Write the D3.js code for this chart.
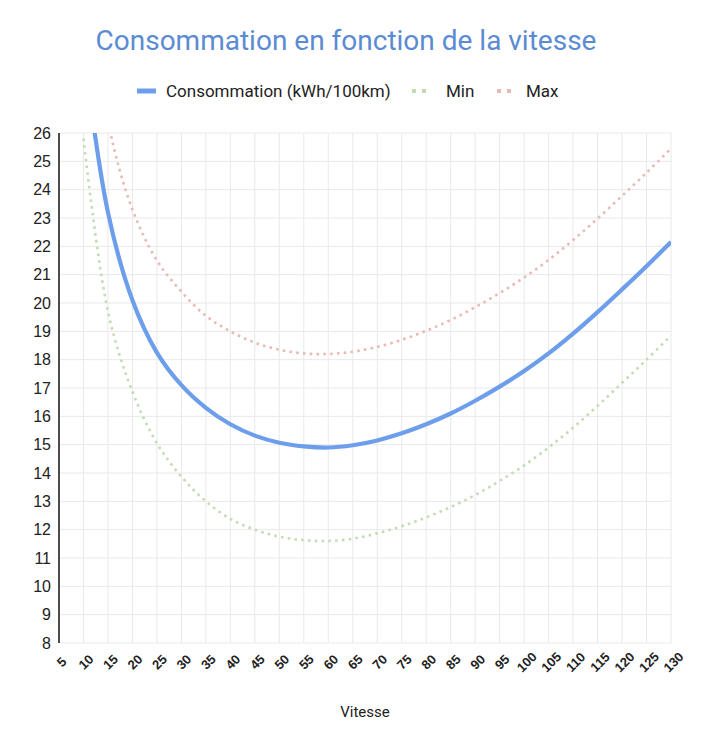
<!DOCTYPE html>
<html>
<head>
<meta charset="utf-8">
<script src="https://cdn.jsdelivr.net/npm/d3@7"></script>
<style>
  html, body { margin: 0; padding: 0; background: #fff; }
  svg { display: block; }
</style>
</head>
<body>
<svg id="chart" width="708" height="750"></svg>
<script>
// ---- Data ----
const speeds = [10, 15, 20, 25, 30, 35, 40, 45, 50, 55, 60, 65, 70, 75, 80, 85, 90, 95, 100, 105, 110, 115, 120, 125, 130];
const consommation = [29.0, 23.2, 20.1, 18.25, 17.1, 16.3, 15.72, 15.32, 15.07, 14.94, 14.9, 14.98, 15.15, 15.4, 15.72, 16.1, 16.55, 17.05, 17.6, 18.22, 18.92, 19.68, 20.48, 21.3, 22.15];
const minValues = [25.8, 19.7, 16.87, 15.05, 13.87, 13.0, 12.38, 12.0, 11.75, 11.63, 11.6, 11.68, 11.87, 12.12, 12.43, 12.8, 13.22, 13.72, 14.27, 14.9, 15.6, 16.37, 17.18, 18.0, 18.85];
const maxValues = [32.3, 26.4, 23.3, 21.5, 20.4, 19.55, 19.0, 18.6, 18.35, 18.22, 18.2, 18.28, 18.45, 18.7, 19.02, 19.4, 19.85, 20.35, 20.9, 21.52, 22.22, 22.98, 23.78, 24.6, 25.45];
const xTicks = [5, 10, 15, 20, 25, 30, 35, 40, 45, 50, 55, 60, 65, 70, 75, 80, 85, 90, 95, 100, 105, 110, 115, 120, 125, 130];
const yTicks = [8, 9, 10, 11, 12, 13, 14, 15, 16, 17, 18, 19, 20, 21, 22, 23, 24, 25, 26];
const seriesNames = ["Consommation (kWh/100km)", "Min", "Max"];
const titleText = "Consommation en fonction de la vitesse";
const xTitle = "Vitesse";

// ---- Layout ----
const svg = d3.select("#chart");
const plot = { left: 59, right: 671, top: 133, bottom: 643 };
const x = d3.scaleLinear().domain([5, 130]).range([plot.left, plot.right]);
const y = d3.scaleLinear().domain([8, 26]).range([plot.bottom, plot.top]);

const colors = { cons: "#6d9eeb", min: "#c4dcb6", max: "#e8bab6" };
const axisFont = "'Liberation Sans', Arial, sans-serif";
const uiFont = "Roboto, 'Liberation Sans', Arial, sans-serif";

// Title
svg.append("text")
  .attr("x", 346).attr("y", 50)
  .attr("text-anchor", "middle")
  .attr("font-family", uiFont)
  .attr("font-size", 28)
  .attr("fill", "#5b8bd2")
  .text(titleText);

// Legend
const legY = 91;
const leg = svg.append("g").attr("font-family", uiFont).attr("font-size", 17).attr("fill", "#222");
leg.append("line").attr("x1", 137).attr("x2", 156).attr("y1", legY).attr("y2", legY)
  .attr("stroke", colors.cons).attr("stroke-width", 5);
leg.append("text").attr("x", 166).attr("y", legY).attr("dy", "0.35em").text(seriesNames[0]);
leg.append("line").attr("x1", 412).attr("x2", 432).attr("y1", legY).attr("y2", legY)
  .attr("stroke", colors.min).attr("stroke-width", 4).attr("stroke-dasharray", "4,6");
leg.append("text").attr("x", 446).attr("y", legY).attr("dy", "0.35em").text(seriesNames[1]);
leg.append("line").attr("x1", 497).attr("x2", 517).attr("y1", legY).attr("y2", legY)
  .attr("stroke", colors.max).attr("stroke-width", 4).attr("stroke-dasharray", "4,6");
leg.append("text").attr("x", 526).attr("y", legY).attr("dy", "0.35em").text(seriesNames[2]);

// Grid
const grid = svg.append("g");
grid.selectAll("line.h").data(yTicks).join("line")
  .attr("x1", plot.left).attr("x2", plot.right)
  .attr("y1", d => y(d)).attr("y2", d => y(d))
  .attr("stroke", "#e9e9e9").attr("stroke-width", 1);
grid.selectAll("line.v").data(xTicks.slice(1)).join("line")
  .attr("x1", d => x(d)).attr("x2", d => x(d))
  .attr("y1", plot.top).attr("y2", plot.bottom)
  .attr("stroke", "#e9e9e9").attr("stroke-width", 1);

// Y axis labels
const yAxis = d3.axisLeft(y).tickValues(yTicks).tickSize(0).tickPadding(8).tickFormat(d3.format("d"));
const yG = svg.append("g").attr("transform", `translate(${plot.left},0)`).call(yAxis);
yG.select(".domain").remove();
yG.selectAll("text").attr("font-family", axisFont).attr("font-size", 16).attr("fill", "#222");

// X axis labels
const xAxis = d3.axisBottom(x).tickValues(xTicks).tickSize(0).tickPadding(0);
const xG = svg.append("g").attr("transform", `translate(0,${plot.bottom})`).call(xAxis);
xG.select(".domain").remove();
xG.selectAll("text")
  .attr("font-family", axisFont).attr("font-size", 13).attr("font-weight", "bold").attr("fill", "#222")
  .attr("text-anchor", "middle").attr("dy", "0.35em").attr("y", 0)
  .attr("transform", "translate(2,19) rotate(-45)");

// Y axis line
svg.append("line").attr("x1", plot.left).attr("x2", plot.left)
  .attr("y1", plot.top).attr("y2", plot.bottom)
  .attr("stroke", "#111").attr("stroke-width", 1.5);

// X axis title
svg.append("text").attr("x", (plot.left + plot.right) / 2).attr("y", 717)
  .attr("text-anchor", "middle").attr("font-family", uiFont).attr("font-size", 15).attr("fill", "#222")
  .text(xTitle);

// Clip
svg.append("clipPath").attr("id", "clip").append("rect")
  .attr("x", plot.left).attr("y", plot.top)
  .attr("width", plot.right - plot.left).attr("height", plot.bottom - plot.top);

const line = vals => d3.line()
  .x((d, i) => x(speeds[i]))
  .y(d => y(d))
  .curve(d3.curveCatmullRom.alpha(0.5))(vals);

const lines = svg.append("g").attr("clip-path", "url(#clip)");
lines.append("path").attr("d", line(minValues)).attr("fill", "none")
  .attr("stroke", colors.min).attr("stroke-width", 2.6).attr("stroke-dasharray", "2.6,4.2");
lines.append("path").attr("d", line(maxValues)).attr("fill", "none")
  .attr("stroke", colors.max).attr("stroke-width", 2.6).attr("stroke-dasharray", "2.6,4.2");
lines.append("path").attr("d", line(consommation)).attr("fill", "none")
  .attr("stroke", colors.cons).attr("stroke-width", 4.2);
</script>
</body>
</html>
